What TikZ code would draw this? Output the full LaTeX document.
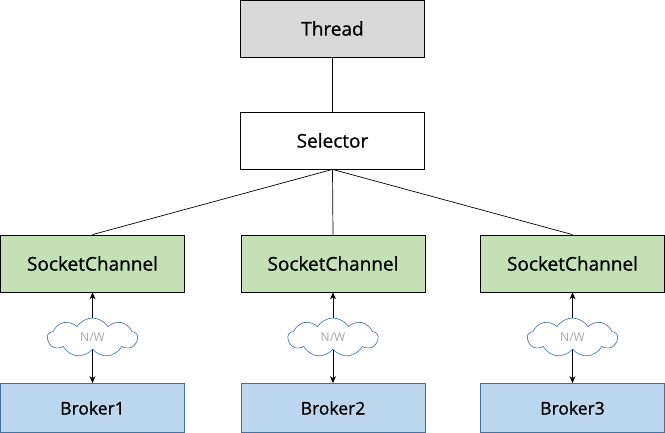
\documentclass[tikz,border=0pt]{standalone}
\usepackage{fontspec}
\setmainfont{Open Sans}
\newfontfamily\boxfont[FakeBold=0.8]{Open Sans}
\usetikzlibrary{shapes.symbols,arrows.meta}
\definecolor{threadfill}{HTML}{D9D9D9}
\definecolor{scfill}{HTML}{C5E0B4}
\definecolor{brfill}{HTML}{BDD7EE}
\definecolor{brdraw}{HTML}{41719C}
\definecolor{nwgray}{HTML}{A6A6A6}
\tikzset{
  box/.style={draw=black, line width=0.8pt, minimum width=184pt, minimum height=57pt, inner sep=0pt, font=\boxfont\fontsize{19}{22}\selectfont},
  brokerbox/.style={draw=brdraw, line width=0.8pt, fill=brfill, minimum width=184pt, minimum height=49pt, inner sep=0pt, font=\boxfont\fontsize{17.5}{20}\selectfont},
  netcloud/.style={cloud, cloud puffs=9, cloud puff arc=115, aspect=2.3, draw=brdraw, line width=0.6pt, fill=white, minimum width=90pt, minimum height=39pt, inner sep=0pt, text=nwgray, font=\fontsize{12}{14}\selectfont},
  link/.style={line width=0.7pt},
  dbl/.style={line width=0.8pt, {Stealth[length=7pt,width=6pt]}-{Stealth[length=7pt,width=6pt]}}
}
\begin{document}
\begin{tikzpicture}[x=1pt,y=-1pt]
\useasboundingbox (0,0) rectangle (665,433);
\node[box, fill=threadfill] (thread) at (332.5,28.5) {Thread};
\node[box, fill=white] (sel) at (332.5,140.5) {Selector};
\node[box, fill=scfill] (sc1) at (92.5,263.5) {SocketChannel};
\node[box, fill=scfill] (sc2) at (333,263.5) {SocketChannel};
\node[box, fill=scfill] (sc3) at (572.5,263.5) {SocketChannel};
\node[brokerbox] (b1) at (92.5,408) {Broker1};
\node[brokerbox] (b2) at (333,408) {Broker2};
\node[brokerbox] (b3) at (572.5,408) {Broker3};
\draw[link] (thread.south) -- (sel.north);
\draw[link] (sel.south) -- (sc1.north);
\draw[link] (sel.south) -- (sc2.north);
\draw[link] (sel.south) -- (sc3.north);
\draw[dbl] (sc1.south) -- (b1.north);
\draw[dbl] (sc2.south) -- (b2.north);
\draw[dbl] (sc3.south) -- (b3.north);
\node[netcloud] (n1) at (92.5,337.5) {N/W};
\node[netcloud] (n2) at (333,337.5) {N/W};
\node[netcloud] (n3) at (572.5,337.5) {N/W};
\end{tikzpicture}
\end{document}
